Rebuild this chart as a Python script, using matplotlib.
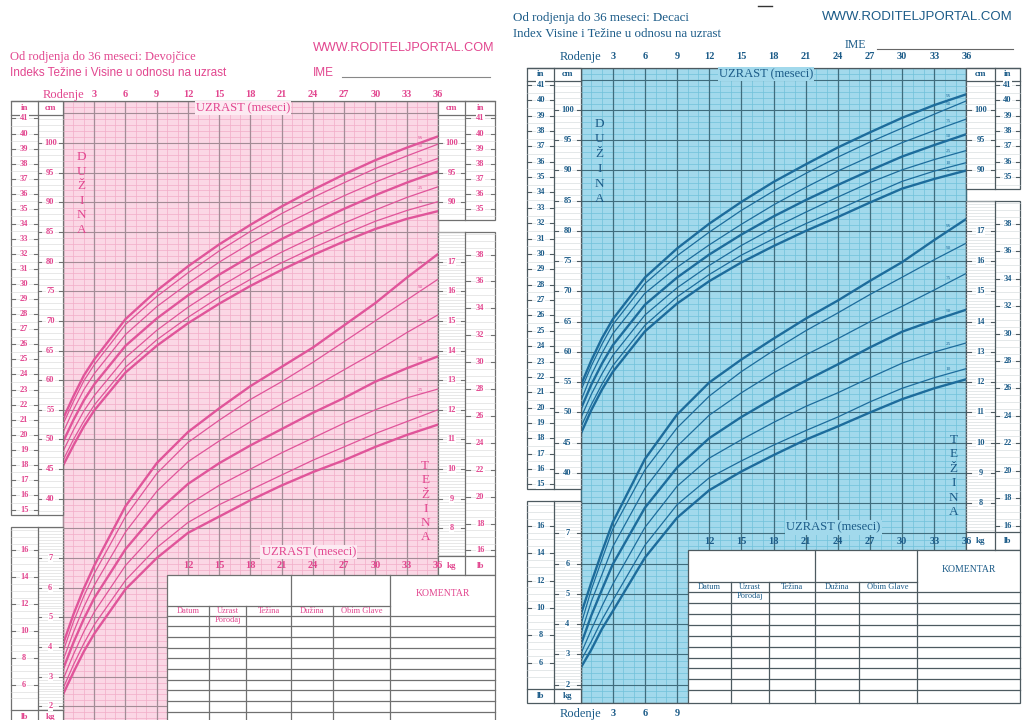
import numpy as np
import matplotlib.pyplot as plt
from matplotlib.patches import Rectangle
from matplotlib.lines import Line2D

plt.rcParams['font.family'] = ['Liberation Serif', 'DejaVu Serif']

# podaci ocitani sa slike (meseci, percentili)
months = [0, 1, 2, 3, 6, 9, 12, 15, 18, 21, 24, 27, 30, 33, 36]
pcts = [5, 10, 25, 50, 75, 90, 95]

girls_length = {
    5:  [45.6, 49.0, 52.2, 54.9, 61.3, 65.8, 69.6, 72.9, 75.9, 78.6, 81.1, 83.4, 85.5, 87.2, 88.5],
    10: [46.5, 50.0, 53.1, 55.8, 62.2, 66.8, 70.6, 74.0, 77.0, 79.8, 82.3, 84.6, 86.8, 88.6, 90.1],
    25: [48.0, 51.6, 54.8, 57.4, 63.8, 68.4, 72.3, 75.7, 78.8, 81.6, 84.1, 86.5, 88.7, 90.8, 92.6],
    50: [49.6, 53.3, 56.6, 59.3, 65.8, 70.4, 74.3, 77.8, 80.9, 83.8, 86.4, 88.9, 91.2, 93.3, 95.2],
    75: [51.2, 55.0, 58.4, 61.1, 67.7, 72.4, 76.3, 79.9, 83.1, 86.0, 88.6, 91.1, 93.4, 95.5, 97.4],
    90: [52.6, 56.4, 59.9, 62.6, 69.4, 74.1, 78.1, 81.8, 85.1, 88.1, 90.8, 93.3, 95.7, 97.8, 99.8],
    95: [53.5, 57.3, 60.8, 63.5, 70.3, 75.1, 79.2, 82.9, 86.2, 89.3, 92.1, 94.7, 97.1, 99.2, 101.1],
}
girls_weight = {
    5:  [2.40, 3.15, 3.85, 4.45, 5.95, 7.00, 7.85, 8.40, 8.95, 9.45, 9.90, 10.30, 10.75, 11.15, 11.50],
    10: [2.60, 3.40, 4.12, 4.75, 6.25, 7.35, 8.20, 8.80, 9.30, 9.80, 10.30, 10.75, 11.20, 11.60, 12.00],
    25: [2.90, 3.75, 4.52, 5.18, 6.75, 7.90, 8.80, 9.45, 10.00, 10.55, 11.05, 11.55, 12.00, 12.40, 12.70],
    50: [3.25, 4.15, 4.95, 5.65, 7.30, 8.55, 9.50, 10.20, 10.80, 11.35, 11.90, 12.40, 12.95, 13.40, 13.80],
    75: [3.55, 4.50, 5.35, 6.08, 7.88, 9.25, 10.25, 10.95, 11.60, 12.20, 12.75, 13.35, 13.95, 14.60, 15.20],
    90: [3.85, 4.85, 5.72, 6.48, 8.40, 9.85, 10.90, 11.65, 12.35, 12.95, 13.60, 14.30, 15.00, 15.70, 16.40],
    95: [4.10, 5.10, 5.98, 6.75, 8.75, 10.20, 11.25, 12.05, 12.80, 13.45, 14.10, 14.85, 15.60, 16.45, 17.25],
}
boys_length = {
    5:  [46.4, 50.4, 53.8, 56.7, 63.4, 68.0, 71.7, 74.8, 77.5, 80.0, 82.3, 84.7, 87.0, 88.6, 90.0],
    10: [47.5, 51.3, 54.7, 57.7, 64.4, 69.1, 72.8, 76.0, 78.7, 81.2, 83.5, 85.9, 88.2, 89.9, 91.3],
    25: [49.0, 53.0, 56.4, 59.4, 66.1, 70.6, 74.3, 77.6, 80.5, 83.1, 85.6, 88.0, 90.1, 91.8, 93.3],
    50: [50.5, 54.6, 58.1, 61.1, 67.8, 72.3, 76.1, 79.4, 82.4, 85.1, 87.6, 90.0, 92.3, 94.2, 96.0],
    75: [51.8, 56.2, 59.8, 63.0, 69.7, 74.0, 77.7, 81.1, 84.3, 87.2, 89.9, 92.3, 94.6, 96.6, 98.5],
    90: [53.5, 57.7, 61.3, 64.5, 71.3, 75.9, 79.8, 83.4, 86.6, 89.5, 92.2, 94.7, 97.0, 99.3, 101.5],
    95: [54.4, 58.6, 62.3, 65.4, 72.3, 77.1, 81.2, 84.8, 88.1, 91.0, 93.8, 96.3, 98.7, 100.8, 102.6],
}
boys_weight = {
    5:  [2.55, 3.16, 3.85, 4.43, 6.20, 7.52, 8.43, 9.05, 9.59, 10.10, 10.54, 11.00, 11.44, 11.80, 12.10],
    10: [2.78, 3.43, 4.15, 4.78, 6.61, 7.95, 8.84, 9.40, 9.92, 10.40, 10.85, 11.35, 11.80, 12.15, 12.45],
    25: [3.00, 3.82, 4.60, 5.32, 7.20, 8.56, 9.49, 10.10, 10.67, 11.20, 11.65, 12.15, 12.63, 13.00, 13.30],
    50: [3.30, 4.29, 5.15, 5.98, 7.85, 9.18, 10.15, 10.85, 11.47, 12.05, 12.59, 13.15, 13.67, 14.05, 14.40],
    75: [3.65, 4.75, 5.65, 6.56, 8.49, 9.88, 10.91, 11.65, 12.31, 12.90, 13.44, 14.00, 14.51, 15.05, 15.60],
    90: [3.95, 5.14, 6.15, 7.14, 9.10, 10.49, 11.54, 12.35, 13.05, 13.70, 14.29, 14.90, 15.47, 16.05, 16.60],
    95: [4.30, 5.38, 6.40, 7.37, 9.46, 10.93, 11.99, 12.75, 13.44, 14.10, 14.70, 15.35, 15.97, 16.70, 17.40],
}

month_ticks = list(range(3, 37, 3))
table_cols = ['Datum', 'Uzrast', 'Težina', 'Dužina', 'Obim Glave']

W, H = 1023, 720
fig = plt.figure(figsize=(W / 100, H / 100), dpi=100)


def kg2u(kg):
    # tezina se crta na istoj mrezi: 1 kg = 5 cm, 17 kg = 80 cm
    return 5 * np.asarray(kg, dtype=float) - 5


def ftext(x, y, s, **kw):
    fig.text(x / W, 1 - y / H, s, **kw)


def fline(xa, xb, y, **kw):
    fig.add_artist(Line2D([xa / W, xb / W], [1 - y / H] * 2, **kw))


def make_ax(left, right, top, bottom, xlim, ylim):
    ax = fig.add_axes([left / W, 1 - bottom / H, (right - left) / W, (bottom - top) / H])
    ax.set_xlim(*xlim)
    ax.set_ylim(*ylim)
    ax.axis('off')
    return ax


def draw_chart(ax, length, weight, c, top_lab_u):
    x0, x1 = ax.get_xlim()
    y0, y1 = ax.get_ylim()
    fr = dict(color=c['frame'], lw=0.9, zorder=5, clip_on=False)

    # mreza
    ax.add_patch(Rectangle((0, y0), 36, y1 - y0, fc=c['bg'], ec=c['frame'], lw=0.9, zorder=0))
    ax.vlines(np.arange(0, 36.1, 1), y0, y1, colors=c['minor'], lw=0.5, zorder=1)
    ax.hlines(np.arange(3, 107, 1), 0, 36, colors=c['minor'], lw=0.5, zorder=1)
    ax.vlines(np.arange(0, 37, 3), y0, y1, colors=c['major'], lw=0.9, zorder=1)
    ax.hlines(np.arange(5, 106, 5), 0, 36, colors=c['major'], lw=0.8, zorder=1)
    ax.plot([x0, x1], [y1, y1], **fr)
    ax.plot([0, 10], [y0, y0], **fr)

    # krive
    for p in pcts:
        lw = 1.7 if p in (5, 50, 95) else 0.9
        for vals in (np.asarray(length[p]), kg2u(weight[p])):
            ax.plot(months, vals, color=c['curve'], lw=lw, zorder=2,
                    solid_capstyle='round')
            ax.text(34.3, np.interp(34.3, months, vals) + 0.75, str(p), fontsize=3.8,
                    color=c['curve'], ha='center', va='center', zorder=2)

    def box(xa, xb, ua, ub):
        ax.add_patch(Rectangle((xa, ua), xb - xa, ub - ua, fc='white', ec=c['frame'],
                               lw=0.9, zorder=3, clip_on=False))

    def scale(xa, xb, ticks, labels, minor, lo, hi, fs=6):
        xm = (xa + xb) / 2
        d = (xb - xa) * 0.15
        for u in minor:
            if lo < u < hi:
                ax.plot([xa, xb], [u, u], color=c['light'], lw=0.4, zorder=4, clip_on=False)
        for u, s in zip(ticks, labels):
            if lo < u < hi:
                ax.plot([xa, xa + d], [u, u], color=c['frame'], lw=0.8, zorder=5, clip_on=False)
                ax.plot([xb - d, xb], [u, u], color=c['frame'], lw=0.8, zorder=5, clip_on=False)
                ax.text(xm, u, s, ha='center', va='center', fontsize=fs, color=c['text'],
                        fontweight='bold', zorder=6,
                        bbox=dict(fc='white', ec='none', pad=0.3))

    def head(x, u, s):
        ax.text(x, u, s, ha='center', va='center', fontsize=6.5, color=c['text'],
                fontweight='bold', zorder=6)

    inch = np.arange(15, 42)
    lbs = np.arange(6, 40, 2)

    # levo gore: in / cm
    box(-5, 0, 37.3, y1)
    ax.plot([-2.45, -2.45], [37.3, y1], **fr)
    ax.plot([-5, 0], [104.8, 104.8], **fr)
    scale(-5, -2.45, inch * 2.54, [str(i) for i in inch], np.arange(15, 42, 0.5) * 2.54, 37.3, 104.8)
    scale(-2.45, 0, np.arange(40, 101, 5), [str(v) for v in range(40, 101, 5)],
          np.arange(36, 105), 37.3, 104.8)
    head(-3.72, 105.9, 'in')
    head(-1.22, 105.9, 'cm')

    # levo dole: lb / kg
    box(-5, 0, y0, 35.3)
    ax.plot([-2.45, -2.45], [y0, 35.3], **fr)
    ax.plot([-5, 0], [4.3, 4.3], **fr)
    scale(-5, -2.45, kg2u(lbs * 0.4536), [str(v) for v in lbs], kg2u(np.arange(5, 18, 0.5) * 0.4536), 4.3, 35.3)
    scale(-2.45, 0, kg2u(np.arange(2, 8)), [str(v) for v in range(2, 8)],
          kg2u(np.arange(1.8, 8.2, 0.1)), 4.3, 35.3)
    head(-3.72, 3.15, 'lb')
    head(-1.22, 3.15, 'kg')

    # desno gore: cm / in
    xr = 38.65
    box(36, x1, 87.0, y1)
    ax.plot([xr, xr], [87.0, y1], **fr)
    ax.plot([36, x1], [104.8, 104.8], **fr)
    scale(36, xr, [90, 95, 100], ['90', '95', '100'], np.arange(86, 105), 87.0, 104.8)
    scale(xr, x1, inch * 2.54, [str(i) for i in inch], np.arange(15, 42, 0.5) * 2.54, 87.0, 104.8)
    head(37.3, 105.9, 'cm')
    head((xr + x1) / 2, 105.9, 'in')

    # desno dole: kg / lb
    box(36, x1, 27.2, 85.0)
    ax.plot([xr, xr], [27.2, 85.0], **fr)
    ax.plot([36, x1], [30.3, 30.3], **fr)
    scale(36, xr, kg2u(np.arange(8, 18)), [str(v) for v in range(8, 18)],
          kg2u(np.arange(7, 18.1, 0.1)), 30.3, 85.0)
    scale(xr, x1, kg2u(lbs * 0.4536), [str(v) for v in lbs],
          kg2u(np.arange(15, 40, 0.5) * 0.4536), 30.3, 85.0)
    head(37.3, 28.7, 'kg')
    head((xr + x1) / 2, 28.7, 'lb')

    # oznake meseci
    tk = dict(ha='center', va='center', fontsize=7.5, color=c['text'], fontweight='bold')
    ax.text(0, top_lab_u, 'Rodenje', ha='center', va='center', fontsize=9, color=c['text'])
    for m in month_ticks:
        ax.text(m, top_lab_u, str(m), **tk)
        if m >= 12:
            ax.text(m, 28.7, str(m), zorder=6, **tk)
    ax.text(17.3, 105.9, 'UZRAST (meseci)', ha='center', va='center', fontsize=9, color=c['text'],
            zorder=6, bbox=dict(fc=c['box'], ec='none', pad=0.8))
    ax.text(23.6, 31.0, 'UZRAST (meseci)', ha='center', va='center', fontsize=9, color=c['text'],
            zorder=6, bbox=dict(fc=c['box'], ec='none', pad=0.8))
    for i, ch in enumerate('DUŽINA'):
        ax.text(1.75, 97.6 - i * 2.45, ch, ha='center', va='center', fontsize=9.5, color=c['text'], zorder=6)
    for i, ch in enumerate('TEŽINA'):
        ax.text(34.8, 45.5 - i * 2.4, ch, ha='center', va='center', fontsize=9.5, color=c['text'], zorder=6)

    # tabela
    ty = 27.2
    ax.add_patch(Rectangle((10, y0), x1 - 10, ty - y0, fc='white', ec=c['frame'],
                           lw=0.9, zorder=4, clip_on=False))
    for u in np.arange(20.3, y0 + 0.5, -1.8):
        ax.plot([10, x1], [u, u], color=c['frame'], lw=0.9, zorder=5, clip_on=False)
    ax.plot([10, 31.4], [22.0, 22.0], **fr)
    for xv in (21.9, 31.4):
        ax.plot([xv, xv], [y0, ty], **fr)
    for xv in (14.05, 17.6, 25.95):
        ax.plot([xv, xv], [y0, 22.0], **fr)
    hd = dict(ha='center', va='center', fontsize=6, color=c['text'], zorder=6)
    for xc, s in zip([12.0, 15.8, 19.75, 23.9, 28.7], table_cols):
        ax.text(xc, 21.15, s, **hd)
    ax.text(15.8, 19.6, 'Porodaj', **hd)
    ax.text((31.4 + x1) / 2, 24.0, 'KOMENTAR', ha='center', va='center', fontsize=7,
            color=c['text'], zorder=6)


pink = dict(bg='#fbd7e5', minor='#f2adc8', major='#a38c96', curve='#e0559a', text='#e2468f',
            frame='#707070', light='#d6d6d6', box='#fdeaf2')
blue = dict(bg='#a2d9ec', minor='#70c1da', major='#3f6c7d', curve='#1d6c9c', text='#1b5b88',
            frame='#4d5a60', light='#cfd6d8', box='#a2d9ec')

# devojcice (levo)
ax1 = make_ax(11, 495, 101.5, 724.1, (-5, 41.5), (2, 107))
draw_chart(ax1, girls_length, girls_weight, pink, 108.1)
ftext(10, 57, 'Od rodjenja do 36 meseci: Devojčice', fontsize=9, color=pink['text'], va='center')
ftext(10, 73, 'Indeks Težine i Visine u odnosu na uzrast', fontsize=8.5, color=pink['text'],
      va='center', family='Liberation Sans')
ftext(313, 48, 'WWW.RODITELJPORTAL.COM', fontsize=9.1, color=pink['text'], va='center',
      family='Liberation Sans')
ftext(313, 73, 'IME', fontsize=8.5, color=pink['text'], va='center', family='Liberation Sans')
fline(342, 490, 77, color='#888888', lw=0.8)

# decaci (desno)
ax2 = make_ax(527, 1020, 67.6, 702.9, (-5, 41), (2, 107))
draw_chart(ax2, boys_length, boys_weight, blue, 108.8)
ftext(513, 18, 'Od rodjenja do 36 meseci: Decaci', fontsize=9.4, color=blue['text'], va='center')
ftext(513, 34, 'Index Visine i Težine u odnosu na uzrast', fontsize=9.3, color=blue['text'], va='center')
ftext(822, 17, 'WWW.RODITELJPORTAL.COM', fontsize=9.5, color=blue['text'], va='center',
      family='Liberation Sans')
ftext(845, 45, 'IME', fontsize=8.5, color=blue['text'], va='center')
fline(877, 1013, 49, color='#666666', lw=0.8)
fline(758, 772, 6, color='#333333', lw=1.0)
ax2.text(0, 0.2, 'Rodenje', ha='center', va='center', fontsize=9, color=blue['text'])
for m in (3, 6, 9):
    ax2.text(m, 0.2, str(m), ha='center', va='center', fontsize=7.5, color=blue['text'], fontweight='bold')

fig.savefig('out.png', dpi=100)
